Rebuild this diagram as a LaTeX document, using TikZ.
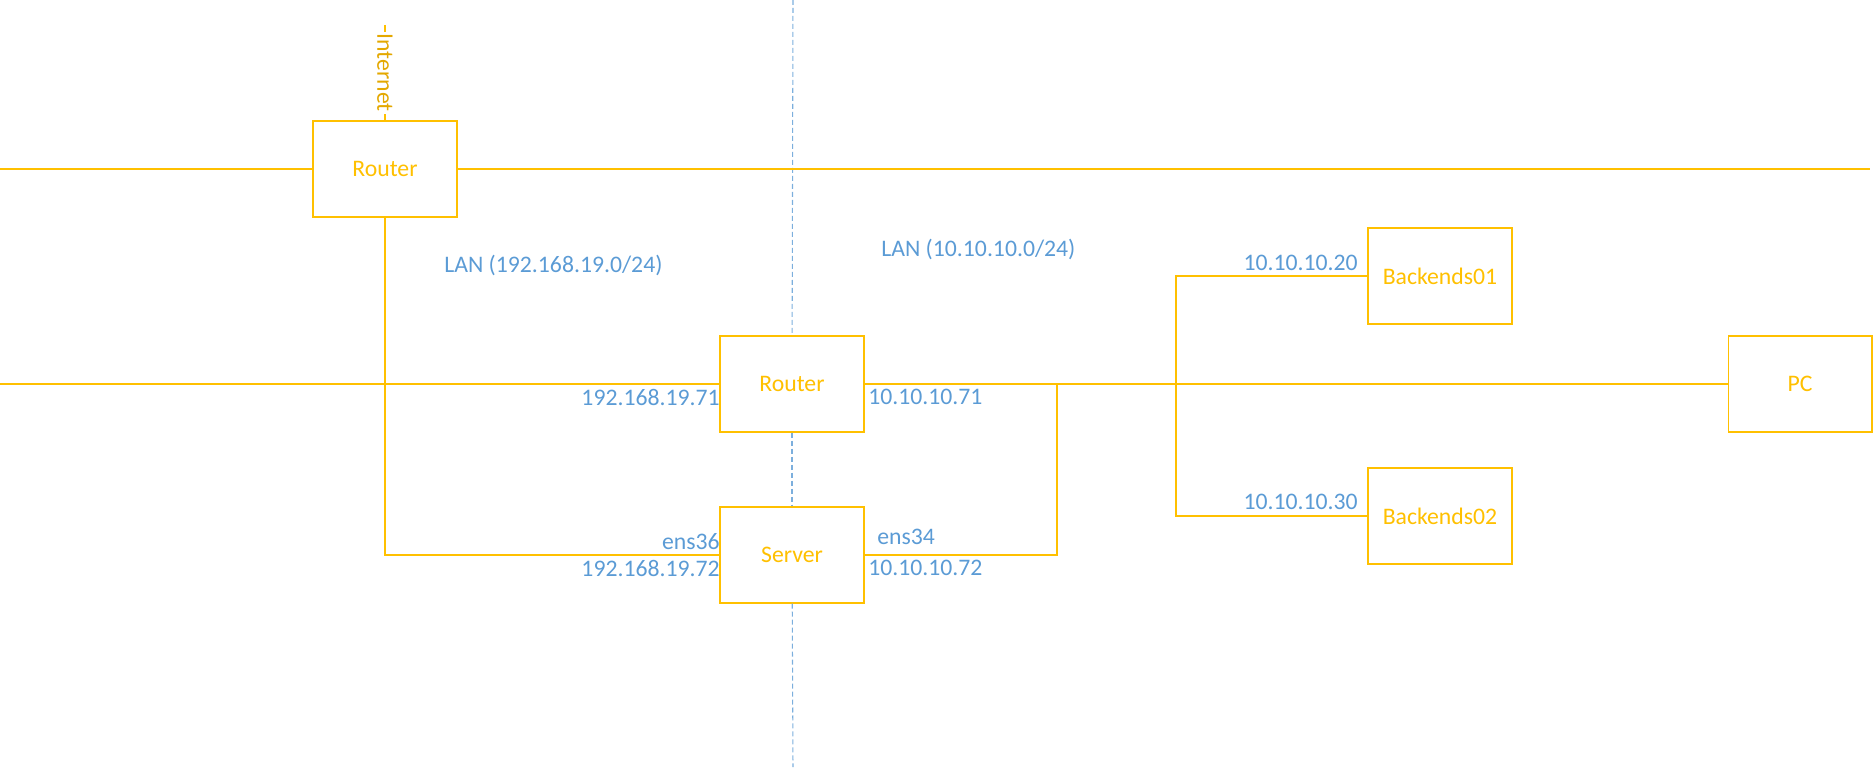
\documentclass[tikz,border=0pt]{standalone}
\usepackage{fontspec}
\setmainfont{Carlito}
\definecolor{boxgold}{RGB}{255,192,0}
\definecolor{netgold}{RGB}{228,168,0}
\definecolor{ipblue}{RGB}{91,155,213}
\begin{document}
\begin{tikzpicture}[x=0.02cm, y=-0.02cm,
    netbox/.style ={rectangle, draw=boxgold, fill=white, line width=0.6pt,
      minimum width=2.88cm, minimum height=1.92cm, text=boxgold,
      font=\fontsize{13.5}{16}\selectfont},
    wire/.style ={draw=boxgold, line width=0.6pt},
    split/.style ={draw=ipblue!80, line width=0.6pt, dash pattern=on 0.1cm off 0.06cm},
    addr/.style ={text=ipblue, inner sep=0pt, font=\fontsize{13.5}{16}\selectfont}]
   \useasboundingbox (0,0) rectangle (1874,770);

   \node[netbox] (rtA) at (385,169) {Router};
   \node[netbox] (rtB) at (792,384) {Router};
   \node[netbox] (srv) at (792,555) {Server};
   \node[netbox] (beA) at (1440,276) {Backends01};
   \node[netbox] (beB) at (1440,516) {Backends02};
   \node[netbox] (pc)  at (1800,384) {PC};

   \coordinate (inet) at (385,25);
   \coordinate (lftA) at (0,169);
   \coordinate (rgtA) at (1870,169);
   \coordinate (lftB) at (0,384);
   \coordinate (jn)   at (1057,384);
   \coordinate (br)   at (1176,384);
   \coordinate (dtop) at (793,0);
   \coordinate (dbot) at (793,767);

   \draw[split] (dtop) to (rtB);
   \draw[split] (rtB) to (srv);
   \draw[split] (srv) to (dbot);

   \draw[wire] (inet) to node[rotate=-90, fill=white, inner sep=1pt, text=netgold,
      font=\fontsize{13.5}{16}\selectfont] (inetlbl) {Internet} (rtA);
   \draw[wire] (lftA) to (rtA);
   \draw[wire] (rtA) to (rgtA);
   \draw[wire] (rtA) |- (srv);
   \draw[wire] (lftB) to (rtB);
   \draw[wire] (rtB) to (pc);
   \draw[wire] (srv) -| (jn);
   \draw[wire] (beA) -| (br) |- (beB);

   \node[addr, anchor=west] (lanA) at (444,265) {LAN (192.168.19.0/24)};
   \node[addr, anchor=west] (lanB) at (881,249) {LAN (10.10.10.0/24)};
   \node[addr, anchor=east] (ipA) at (720,397) {192.168.19.71};
   \node[addr, anchor=west] (ipB) at (868,397) {10.10.10.71};
   \node[addr, anchor=east] (ensA) at (720,542) {ens36};
   \node[addr, anchor=east] (ipC) at (720,568) {192.168.19.72};
   \node[addr, anchor=west] (ensB) at (877,537) {ens34};
   \node[addr, anchor=west] (ipD) at (868,568) {10.10.10.72};
   \node[addr, anchor=east] (ipE) at (1358,263) {10.10.10.20};
   \node[addr, anchor=east] (ipF) at (1358,502) {10.10.10.30};
 \end{tikzpicture}
\end{document}
